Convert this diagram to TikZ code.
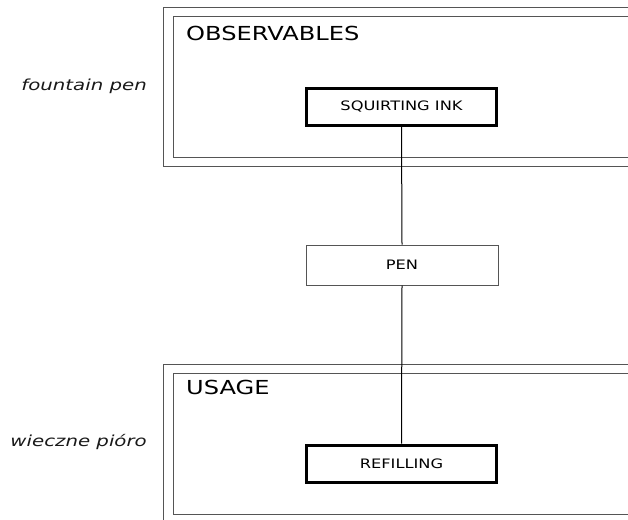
\documentclass[tikz,border=0pt]{standalone}
\usepackage{fontspec}
\newfontfamily\boxfont[FakeStretch=1.25]{DejaVu Sans}
\newfontfamily\sidefont[FakeStretch=1.3]{DejaVu Sans Oblique}
\definecolor{framegray}{HTML}{555555}
\begin{document}
\begin{tikzpicture}[x=1pt,y=-1pt,
  container/.style={draw=framegray,line width=1.2pt,anchor=north west,inner sep=0pt},
  thickbox/.style={draw=black,line width=3pt,minimum width=190pt,minimum height=37pt,inner sep=0pt,font=\boxfont\fontsize{13}{15}\selectfont},
  thinbox/.style={draw=framegray,line width=1pt,minimum width=192pt,minimum height=40pt,inner sep=0pt,font=\boxfont\fontsize{13}{15}\selectfont},
  title/.style={anchor=base west,inner sep=0pt,font=\boxfont\fontsize{19.3}{21}\selectfont},
  side/.style={anchor=base east,inner sep=0pt,font=\sidefont\fontsize{15.2}{17}\selectfont,text=black!90},
  link/.style={draw=black,line width=1pt}]
\useasboundingbox (0,0) rectangle (628,519);
\clip (0,0) rectangle (628,519);
\fill[white] (0,0) rectangle (628,519);
% containers
\node[container,minimum width=500pt,minimum height=159pt] (obsout) at (163,7) {};
\node[container,minimum width=500pt,minimum height=141pt] (obsin) at (173,16) {};
\node[container,minimum width=500pt,minimum height=170pt] (useout) at (163,364) {};
\node[container,minimum width=500pt,minimum height=141pt] (usein) at (173,373) {};
\node[title] (obst) at (186,40.5) {OBSERVABLES};
\node[title] (uset) at (186,394.5) {USAGE};
% side labels
\node[side] (fp) at (147,90) {fountain pen};
\node[side] (wp) at (147,446) {wieczne pióro};
% boxes
\node[thickbox] (sq) at (401.5,107) {SQUIRTING INK};
\node[thinbox,fill=white] (pen) at (402,265) {PEN};
\node[thickbox] (ref) at (401.5,463.5) {REFILLING};
% links
\draw[link] (sq.south) -- (pen.north);
\draw[link] (pen.south) -- (ref.north);
\end{tikzpicture}
\end{document}
